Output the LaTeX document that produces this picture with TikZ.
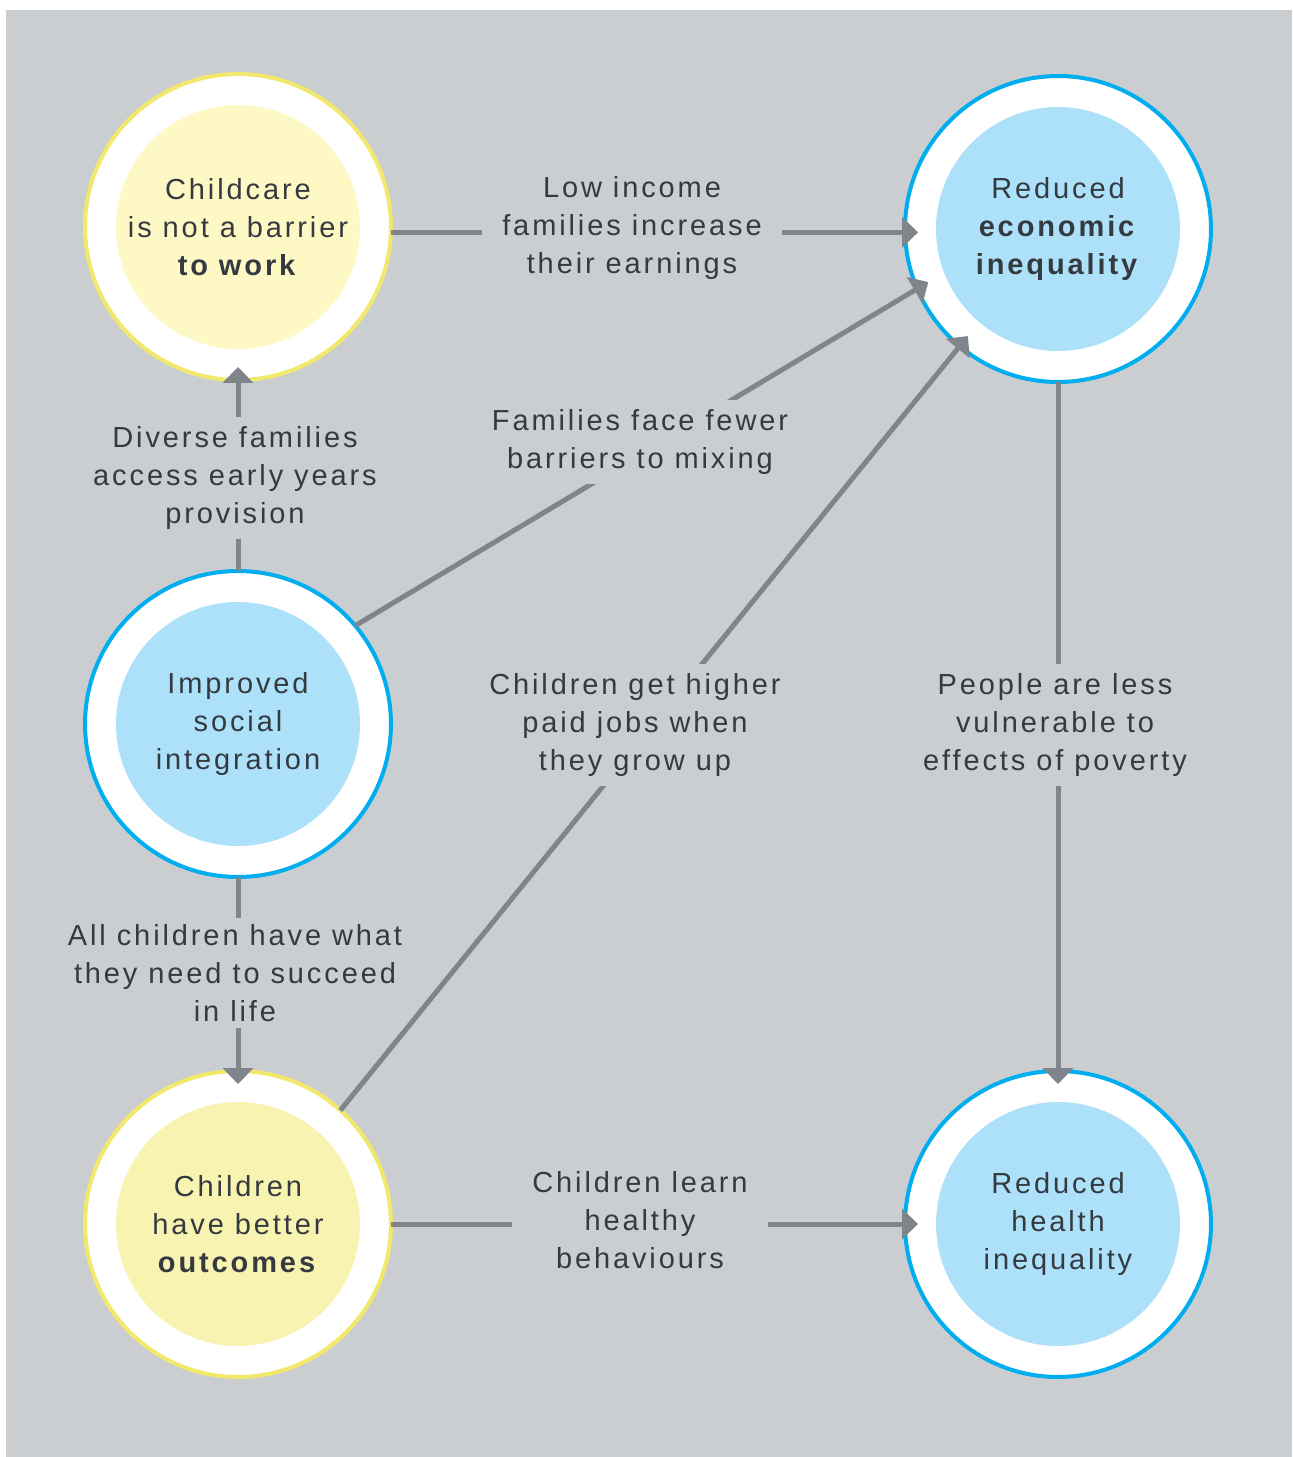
\documentclass[tikz,border=0pt]{standalone}
\usepackage{fontspec}
\setmainfont{Liberation Sans}[LetterSpace=10]
\usetikzlibrary{arrows.meta}
\definecolor{bggray}{HTML}{CBCED1}
\definecolor{linkgray}{HTML}{7F858A}
\definecolor{textdark}{HTML}{343A40}
\definecolor{ringyellow}{HTML}{F2E86C}
\definecolor{fillyellow}{HTML}{FEF8C5}
\definecolor{filloutcome}{HTML}{F8F3B0}
\definecolor{ringblue}{HTML}{00AEEF}
\definecolor{fillblue}{HTML}{ADE1F9}
\newcommand{\txtfont}{\fontsize{16.5}{21.6}\selectfont}
\tikzset{
  outcome/.style 2 args={circle, draw=#1, line width=0.08cm, fill=white,
    minimum size=6.12cm, inner sep=0pt, outer sep=0pt, align=center,
    text=textdark, font=\txtfont,
    path picture={\fill[#2] (path picture bounding box.center) circle (2.44cm);}},
  link/.style={draw=linkgray, line width=0.1cm,
    -{Triangle[width=0.6cm,length=0.32cm]}, shorten >=-0.26cm},
  lbl/.style={fill=bggray, align=center, text=textdark, font=\txtfont,
    inner xsep=0.4cm, inner ysep=0.2cm}
}

\begin{document}
\begin{tikzpicture}[x=0.02cm,y=-0.02cm]
  \useasboundingbox (0,0) rectangle (1292,1457);
  \fill[bggray] (6,10) rectangle (1292,1457);

  % left column
  \node[outcome={ringyellow}{fillyellow}] (work) at (238,227)
    {Childcare\\is not a barrier\\\textbf{to work}};
  \node[outcome={ringblue}{fillblue}] (social) at (238,724)
    {Improved\\social\\integration};
  \node[outcome={ringyellow}{filloutcome}] (better) at (238,1224)
    {Children\\have better\\\textbf{outcomes}};
  % right column
  \node[outcome={ringblue}{fillblue}] (economic) at (1058,229)
    {Reduced\\\textbf{economic}\\\textbf{inequality}};
  \node[outcome={ringblue}{fillblue}] (health) at (1058,1224)
    {Reduced\\health\\inequality};

  % links
  \draw[link] (work.-2.5) -- (work.-2.5 -| economic.west);
  \draw[link] (social.north) -- (work.south);
  \draw[link] (social.40) -- (economic.203);
  \draw[link] (better.48) -- (economic.230);
  \draw[link] (economic.south) -- (health.north);
  \draw[link] (social.south) -- (better.north);
  \draw[link] (better.east) -- (health.west);

  % labels
  \node[lbl] (earnings) at (632,228) {Low income\\families increase\\their earnings};
  \node[lbl] (access) at (235,478) {Diverse families\\access early years\\provision};
  \node[lbl] (mixing) at (640,442) {Families face fewer\\barriers to mixing};
  \node[lbl] (jobs) at (635,725) {Children get higher\\paid jobs when\\they grow up};
  \node[lbl] (poverty) at (1055,725) {People are less\\vulnerable to\\effects of poverty};
  \node[lbl, inner xsep=0pt, inner ysep=0.12cm] (succeed) at (235,973)
    {All children have what\\they need to succeed\\in life};
  \node[lbl] (healthy) at (640,1220) {Children learn\\healthy\\behaviours};
\end{tikzpicture}
\end{document}
